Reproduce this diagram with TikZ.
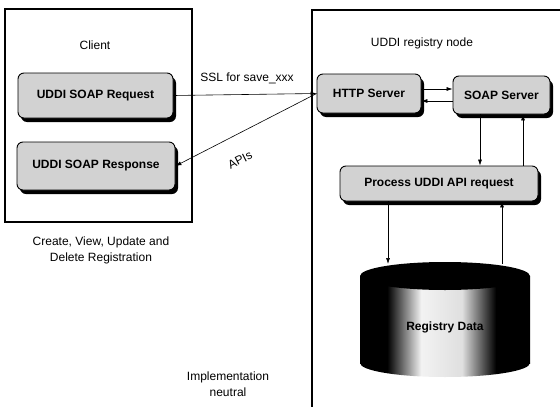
\documentclass[tikz,border=0pt]{standalone}
\usepackage{fontspec}
\setmainfont{Liberation Sans}
\usetikzlibrary{
	arrows.meta,
	positioning,
	shadows
}
\pgfdeclarehorizontalshading{dbshade}{100bp}{color(0bp)=(black); color(25bp)=(black); color(33bp)=(black); color(43bp)=(gray!10); color(55bp)=(gray!25); color(65bp)=(black); color(75bp)=(black); color(100bp)=(black)}

\begin{document}
\begin{tikzpicture}[x=1pt,y=-1pt,
		font=\fontsize{12}{16}\selectfont,
		outerbox/.style={draw, line width=1.5pt},
		procbox/.style={draw, line width=0.9pt, fill=gray!35, rounded corners=6pt,
			font=\fontsize{12}{14}\selectfont\bfseries,
			drop shadow={shadow xshift=3pt, shadow yshift=-4pt, fill=black, opacity=1}},
		arr/.style={-{Latex[length=6pt,width=4pt]}, line width=0.6pt}]
		
		\useasboundingbox (0,0) rectangle (560,407);
		\clip (0,0) rectangle (560,407);
		
		% Outer boxes
		\draw[outerbox] (5,9) rectangle (192,222);
		\draw[outerbox] (312,10) rectangle (580,420);
		
		\node (client) at (95,45) {Client};
		\node (regnode) at (422,43) {UDDI registry node};
		
		% Client side
		\node[procbox, minimum width=155pt, minimum height=45pt] (req) at (95.5,95.5) {UDDI SOAP Request};
		\node[procbox, minimum width=158pt, minimum height=48pt] (resp) at (96,166) {UDDI SOAP Response};
		
		% Registry side
		\node[procbox, minimum width=104pt, minimum height=39pt] (http) at (369,93.5) {HTTP Server};
		\node[procbox, minimum width=97pt, minimum height=38pt] (soap) at (501.5,95) {SOAP Server};
		\node[procbox, minimum width=198pt, minimum height=35pt] (proc) at (439,183.5) {Process UDDI API request};
		
		% Registry data store
		\shade[shading=dbshade] (360,276) rectangle (530,363);
		\shade[shading=dbshade] (445,363) ellipse [x radius=85, y radius=14];
		\fill[black] (445,276) ellipse [x radius=85, y radius=14];
		\node[font=\fontsize{12}{14}\selectfont\bfseries] (db) at (445,327) {Registry Data};
		\coordinate (dbin) at (388,264);
		\coordinate (dbout) at (502,264);
		
		% Connectors
		\draw[arr] (req.east) -- (http.west);
		\draw[arr] (http.west) -- (resp.east);
		\draw[arr] (http.east |- 0,89) -- (soap.west |- 0,89);
		\draw[arr] (soap.west |- 0,101) -- (http.east |- 0,101);
		\draw[arr] (480,0 |- soap.south) -- (480,0 |- proc.north);
		\draw[arr] (523,0 |- proc.north) -- (523,0 |- soap.south);
		\draw[arr] (388,0 |- proc.south) -- (dbin);
		\draw[arr] (dbout) -- (502,0 |- proc.south);
		
		% Labels
		\node (ssl) at (247,78) {SSL for save\_xxx};
		\node[rotate=27] (apis) at (240,160) {APIs};
		\node[align=center] (crud) at (101,250) {Create, View, Update and\\Delete Registration};
		\node[align=center] (impl) at (228,384) {Implementation\\neutral};
		
	\end{tikzpicture}
\end{document}
